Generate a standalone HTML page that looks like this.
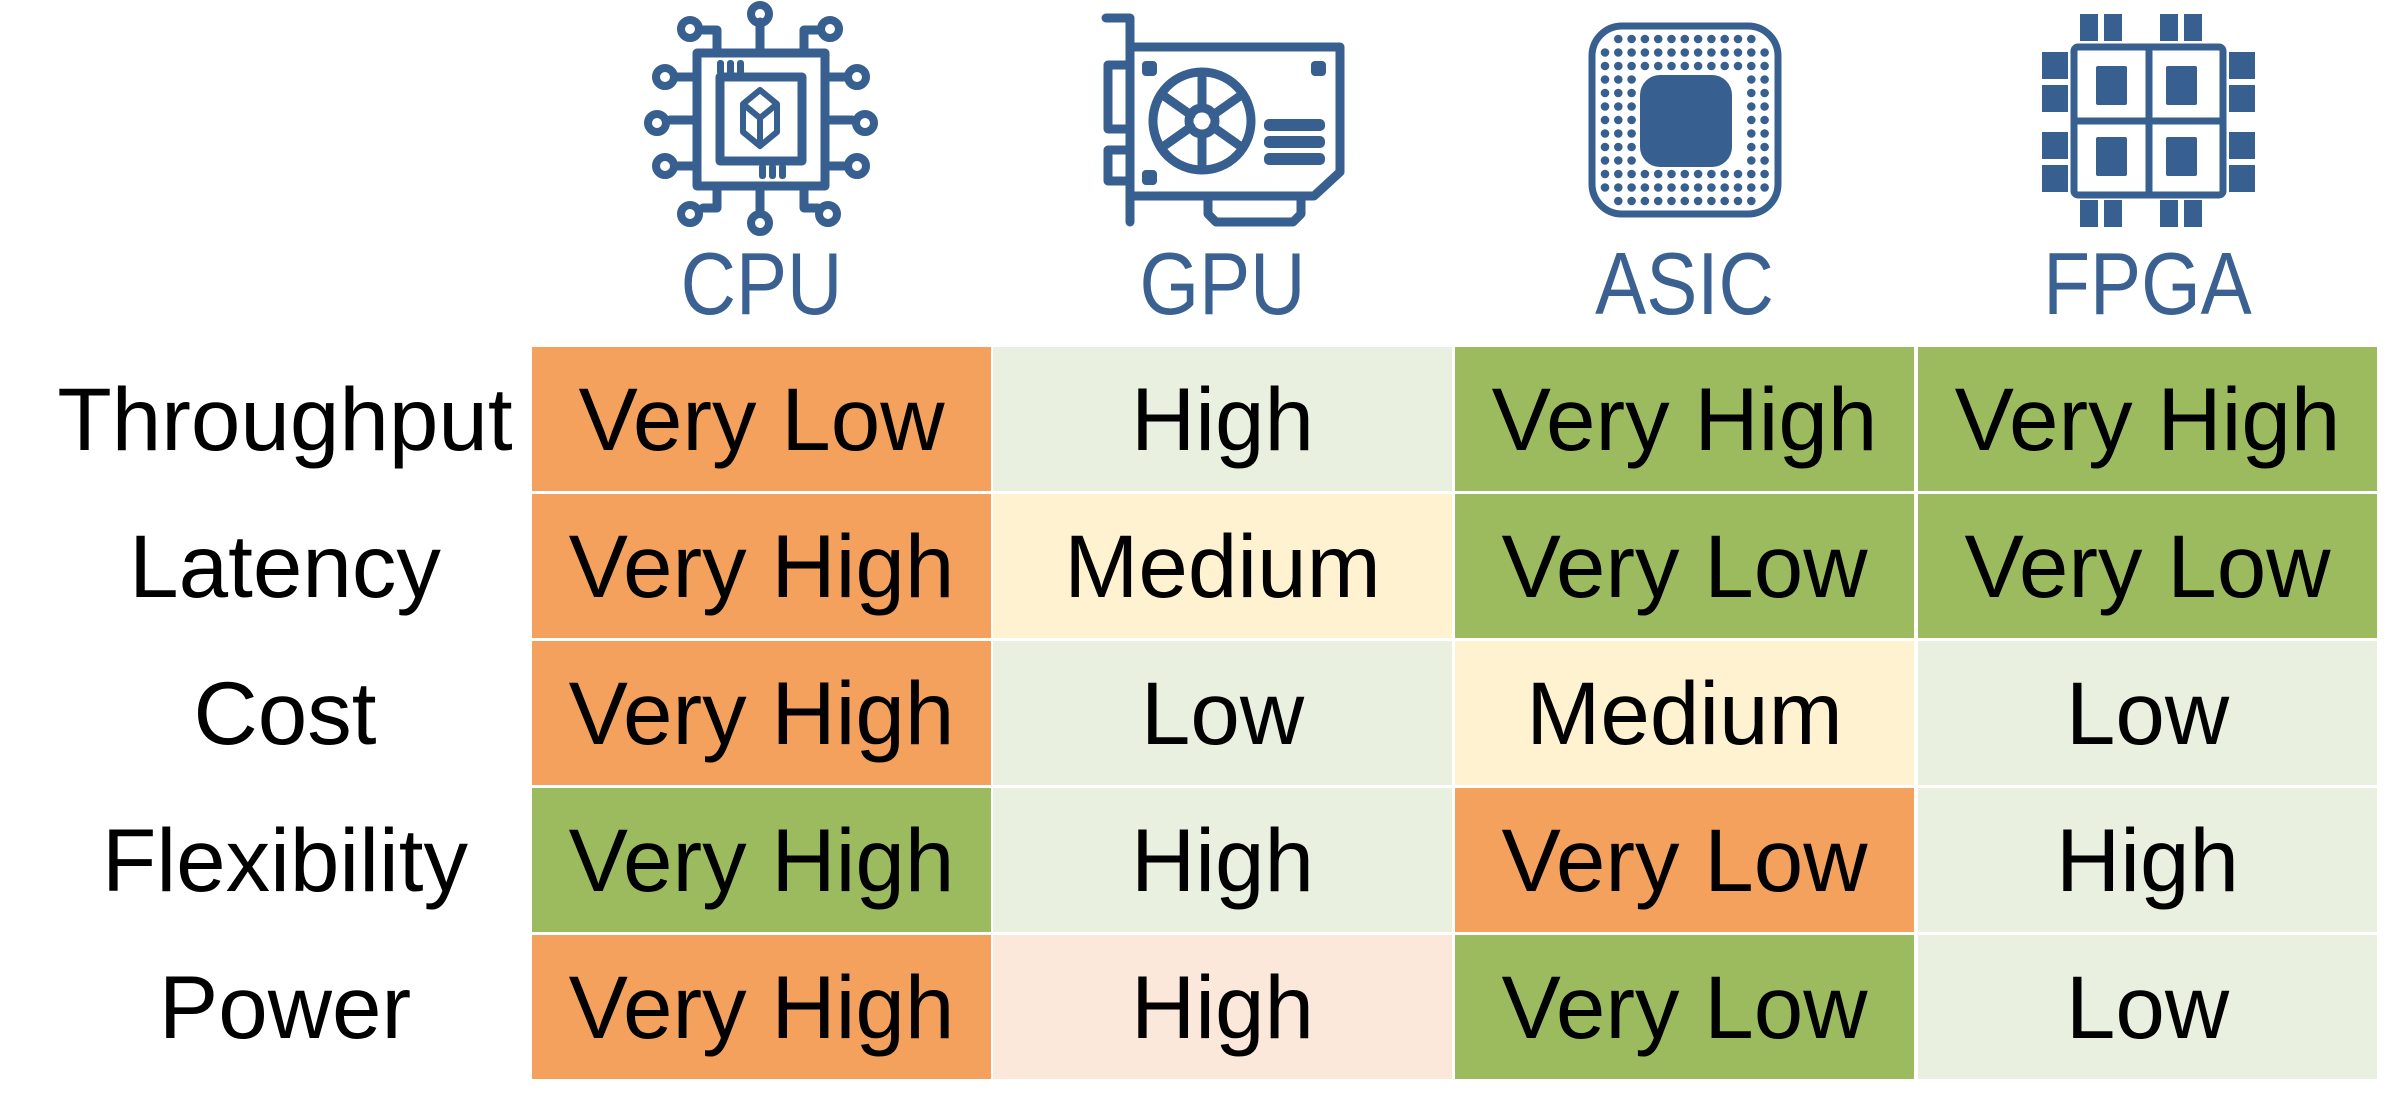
<!DOCTYPE html>
<html><head><meta charset="utf-8"><style>
html,body{margin:0;padding:0;background:#fff;}
body{width:2392px;height:1117px;position:relative;overflow:hidden;font-family:"Liberation Sans",sans-serif;}
.c{position:absolute;width:459px;height:144px;display:flex;align-items:center;justify-content:center;font-size:89px;color:#000;}
.r{position:absolute;left:20px;width:530px;height:144px;display:flex;align-items:center;justify-content:center;font-size:89px;color:#000;}
.h{position:absolute;top:234px;width:459px;text-align:center;font-size:88px;color:#3a6191;line-height:100px;transform:scaleX(0.87);}
.o{background:#F4A15D}.g{background:#9CBB5F}.lg{background:#E9F0DF}.y{background:#FEF2D0}.p{background:#FBE8DA}
</style></head><body>
<svg width="2392" height="240" style="position:absolute;left:0;top:0" fill="none" stroke="#375f90" stroke-width="9" stroke-linecap="round" stroke-linejoin="round">
<!-- CPU -->
<rect x="697" y="53" width="128" height="133"/>
<rect x="720" y="77" width="82" height="84"/>
<path d="M760 90 L777 104 L777 132 L760 146 L743 132 L743 104 Z M743 104 L760 118 L777 104 M760 118 L760 146" stroke-width="6"/>
<path d="M717 53 V30 H703 M760 53 V22 M804 53 V30 H818 M717 186 V208 H703 M760 186 V212 M804 186 V208 H818 M697 77 H676 M697 120 H670 M697 166 H676 M825 77 H846 M825 120 H852 M825 166 H846"/>
<g stroke-width="8"><circle cx="690" cy="29" r="9"/><circle cx="760" cy="14" r="9"/><circle cx="830" cy="29" r="9"/>
<circle cx="690" cy="214" r="9"/><circle cx="760" cy="223" r="9"/><circle cx="828" cy="214" r="9"/>
<circle cx="665" cy="77" r="9"/><circle cx="657" cy="123" r="9"/><circle cx="665" cy="166" r="9"/>
<circle cx="857" cy="77" r="9"/><circle cx="865" cy="123" r="9"/><circle cx="857" cy="166" r="9"/></g>
<g fill="#375f90" stroke="none"><rect x="717" y="60" width="7" height="15" rx="3"/><rect x="727" y="60" width="7" height="15" rx="3"/><rect x="737" y="60" width="7" height="15" rx="3"/>
<rect x="759" y="164" width="7" height="15" rx="3"/><rect x="769" y="164" width="7" height="15" rx="3"/><rect x="779" y="164" width="7" height="15" rx="3"/></g>
<!-- GPU -->
<path d="M1106 18 H1130 V222"/>
<path d="M1130 47 H1340 V172 L1314 196 H1130"/>
<path d="M1130 65 H1108 V129 H1130 M1130 150 H1108 V181 H1130"/>
<path d="M1208 196 V214 L1216 222 H1293 L1301 214 V196"/>
<circle cx="1202" cy="121" r="49"/>
<circle cx="1202" cy="121" r="13"/>
<path d="M1202 108 V75 M1202 134 V167 M1191 115 L1164 96 M1213 115 L1240 96 M1191 127 L1164 146 M1213 127 L1240 146"/>
<g fill="#375f90" stroke="none"><rect x="1264" y="119" width="61" height="12" rx="5"/><rect x="1264" y="136" width="61" height="12" rx="5"/><rect x="1264" y="153" width="61" height="12" rx="5"/>
<rect x="1142" y="61" width="15" height="15" rx="4"/><rect x="1311" y="61" width="15" height="15" rx="4"/><rect x="1142" y="170" width="15" height="15" rx="4"/></g>
<!-- ASIC -->
<rect x="1592" y="26" width="186" height="188" rx="30" stroke-width="7"/>
<rect x="1640" y="75" width="92" height="92" rx="20" fill="#375f90" stroke="none"/>
<g fill="#375f90" stroke="none" id="dots"></g>
<!-- FPGA -->
<rect x="2074" y="47" width="149" height="148" rx="4" stroke-width="7"/>
<path d="M2149 47 V195 M2074 121 H2223" stroke-width="7"/>
<g fill="#375f90" stroke="none">
<rect x="2096" y="66" width="31" height="39" rx="2"/><rect x="2166" y="66" width="31" height="39" rx="2"/>
<rect x="2096" y="137" width="31" height="39" rx="2"/><rect x="2166" y="137" width="31" height="39" rx="2"/>
<rect x="2080" y="14" width="18" height="27"/><rect x="2104" y="14" width="18" height="27"/><rect x="2160" y="14" width="18" height="27"/><rect x="2184" y="14" width="18" height="27"/>
<rect x="2080" y="200" width="18" height="27"/><rect x="2104" y="200" width="18" height="27"/><rect x="2160" y="200" width="18" height="27"/><rect x="2184" y="200" width="18" height="27"/>
<rect x="2042" y="52" width="26" height="27"/><rect x="2042" y="85" width="26" height="27"/><rect x="2042" y="132" width="26" height="27"/><rect x="2042" y="165" width="26" height="27"/>
<rect x="2229" y="52" width="26" height="27"/><rect x="2229" y="85" width="26" height="27"/><rect x="2229" y="132" width="26" height="27"/><rect x="2229" y="165" width="26" height="27"/>
</g>
</svg>
<script>
(function(){var g=document.getElementById('dots');var s='';for(var i=0;i<13;i++){for(var j=0;j<13;j++){var x=1605+i*13.3,y=39+j*13.5;if(x>1632&&x<1740&&y>68&&y<174)continue;if((i==0||i==12)&&(j==0||j==12))continue;s+='<circle cx="'+x.toFixed(1)+'" cy="'+y.toFixed(1)+'" r="4.3"/>';}}g.innerHTML=s;})();
</script>
<div class="h" style="left:532px">CPU</div>
<div class="h" style="left:993px">GPU</div>
<div class="h" style="left:1455px">ASIC</div>
<div class="h" style="left:1918px">FPGA</div>

<div class="r" style="top:347px">Throughput</div>
<div class="r" style="top:494px">Latency</div>
<div class="r" style="top:641px">Cost</div>
<div class="r" style="top:788px">Flexibility</div>
<div class="r" style="top:935px">Power</div>

<div class="c o" style="left:532px;top:347px">Very Low</div>
<div class="c lg" style="left:993px;top:347px">High</div>
<div class="c g" style="left:1455px;top:347px">Very High</div>
<div class="c g" style="left:1918px;top:347px">Very High</div>

<div class="c o" style="left:532px;top:494px">Very High</div>
<div class="c y" style="left:993px;top:494px">Medium</div>
<div class="c g" style="left:1455px;top:494px">Very Low</div>
<div class="c g" style="left:1918px;top:494px">Very Low</div>

<div class="c o" style="left:532px;top:641px">Very High</div>
<div class="c lg" style="left:993px;top:641px">Low</div>
<div class="c y" style="left:1455px;top:641px">Medium</div>
<div class="c lg" style="left:1918px;top:641px">Low</div>

<div class="c g" style="left:532px;top:788px">Very High</div>
<div class="c lg" style="left:993px;top:788px">High</div>
<div class="c o" style="left:1455px;top:788px">Very Low</div>
<div class="c lg" style="left:1918px;top:788px">High</div>

<div class="c o" style="left:532px;top:935px">Very High</div>
<div class="c p" style="left:993px;top:935px">High</div>
<div class="c g" style="left:1455px;top:935px">Very Low</div>
<div class="c lg" style="left:1918px;top:935px">Low</div>
</body></html>
